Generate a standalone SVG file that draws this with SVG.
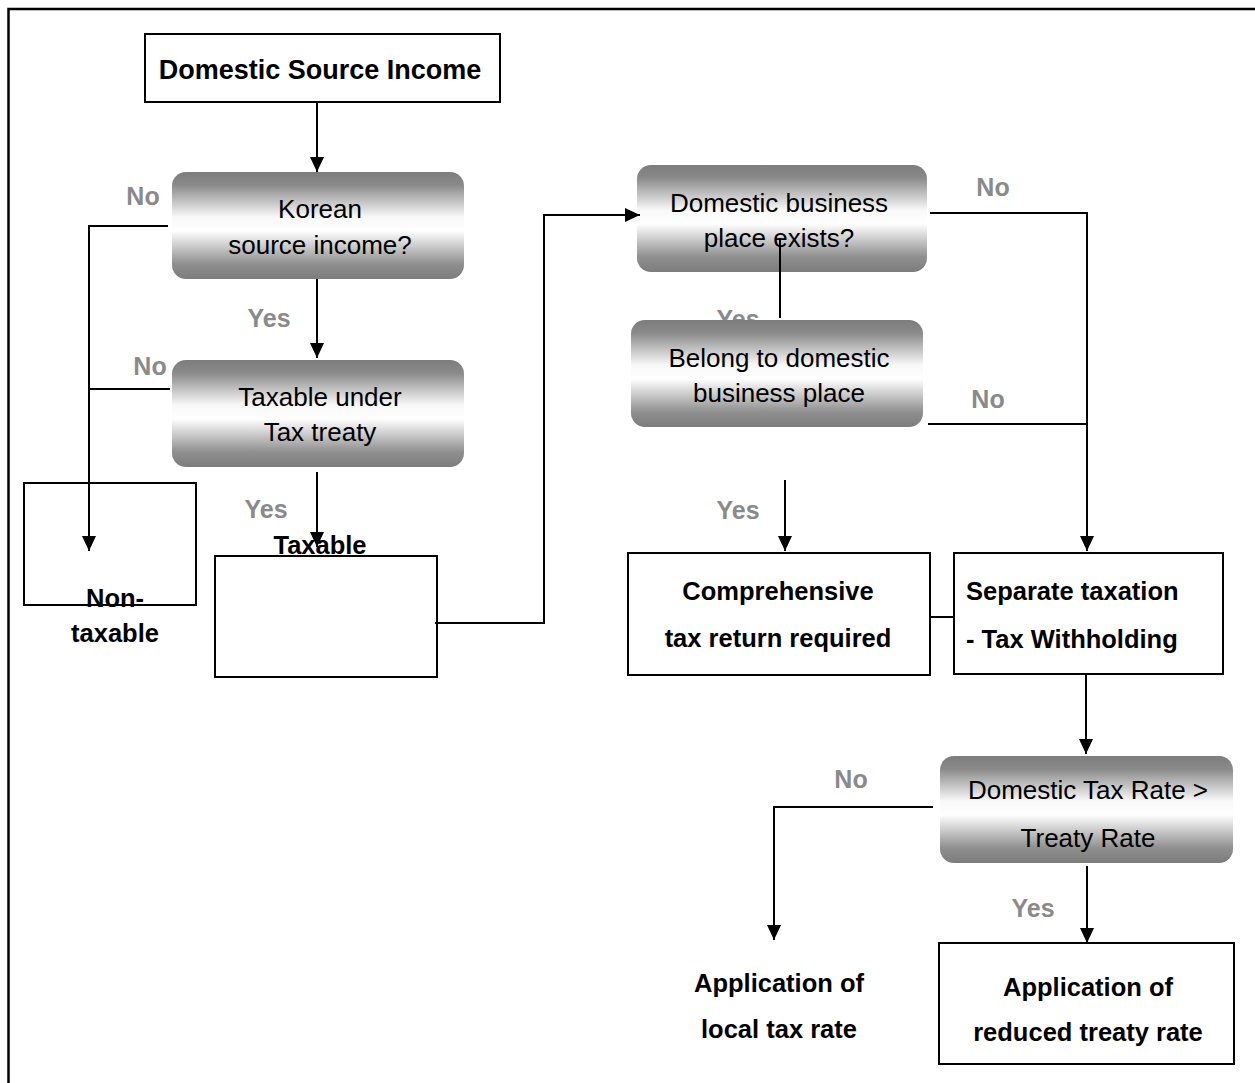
<svg xmlns="http://www.w3.org/2000/svg" width="1255" height="1083" viewBox="0 0 1255 1083">
<style>
.box{fill:#fff;stroke:#000;stroke-width:2}
.dec{stroke:none}
.t{font-family:"Liberation Sans",Arial,sans-serif;font-size:26px;fill:#000;text-anchor:middle}
.b{font-family:"Liberation Sans",Arial,sans-serif;font-size:25.5px;font-weight:bold;fill:#000;text-anchor:middle}
.bl{font-family:"Liberation Sans",Arial,sans-serif;font-size:25.5px;font-weight:bold;fill:#000;text-anchor:start}
.lbl{font-family:"Liberation Sans",Arial,sans-serif;font-size:25px;font-weight:bold;fill:#8a8a8a;text-anchor:middle}
.c{fill:none;stroke:#000;stroke-width:2}
.a{marker-end:url(#arr)}
</style>
<defs>
<linearGradient id="g" x1="0" y1="0" x2="0" y2="1">
<stop offset="0" stop-color="#7c7c7c"/>
<stop offset="0.12" stop-color="#8a8a8a"/>
<stop offset="0.42" stop-color="#f8f8f8"/>
<stop offset="0.55" stop-color="#ffffff"/>
<stop offset="0.86" stop-color="#8f8f8f"/>
<stop offset="1" stop-color="#7c7c7c"/>
</linearGradient>
<marker id="arr" markerUnits="userSpaceOnUse" markerWidth="16" markerHeight="16" viewBox="0 0 16 16" refX="15" refY="8" orient="auto">
<path d="M0,1 L15,8 L0,15 Z" fill="#000"/>
</marker>
</defs>
<rect x="8.5" y="9" width="1260" height="1090" fill="none" stroke="#000" stroke-width="2.5"/>
<text class="lbl" x="738" y="328">Yes</text>
<g id="n-domestic-source"><rect class="box" x="145" y="34" width="355" height="68"/><text class="b" x="320" y="79" style="font-size:27px">Domestic Source Income</text></g>
<g id="n-korean"><rect class="dec" x="172" y="172" width="292" height="107" rx="14" fill="url(#g)"/><text class="t" x="320" y="218">Korean</text><text class="t" x="320" y="254">source income?</text></g>
<g id="n-treaty"><rect class="dec" x="172" y="360" width="292" height="107" rx="14" fill="url(#g)"/><text class="t" x="320" y="406">Taxable under</text><text class="t" x="320" y="441">Tax treaty</text></g>
<g id="n-nontaxable"><rect class="box" x="24" y="483" width="172" height="122"/><text class="b" x="115" y="607">Non-</text><text class="b" x="115" y="642">taxable</text></g>
<g id="n-taxable"><text class="b" x="320" y="554">Taxable</text><rect class="box" x="215" y="556" width="222" height="121" fill="none"/></g>
<g id="n-business-exists"><rect class="dec" x="637" y="165" width="290" height="107" rx="14" fill="url(#g)"/><text class="t" x="779" y="212">Domestic business</text><text class="t" x="779" y="247">place exists?</text></g>
<g id="n-belong"><rect class="dec" x="631" y="320" width="292" height="107" rx="14" fill="url(#g)"/><text class="t" x="779" y="367">Belong to domestic</text><text class="t" x="779" y="402">business place</text></g>
<g id="n-comprehensive"><rect class="box" x="628" y="553" width="302" height="122"/><text class="b" x="778" y="600">Comprehensive</text><text class="b" x="778" y="647">tax return required</text></g>
<g id="n-separate"><rect class="box" x="954" y="553" width="269" height="121"/><text class="bl" x="966" y="600">Separate taxation</text><text class="bl" x="966" y="648">- Tax Withholding</text></g>
<g id="n-rate"><rect class="dec" x="940" y="756" width="293" height="107" rx="14" fill="url(#g)"/><text class="t" x="1088" y="799">Domestic Tax Rate &gt;</text><text class="t" x="1088" y="847">Treaty Rate</text></g>
<g id="n-local"><text class="b" x="779" y="992">Application of</text><text class="b" x="779" y="1038">local tax rate</text></g>
<g id="n-reduced"><rect class="box" x="939" y="943" width="295" height="121"/><text class="b" x="1088" y="996">Application of</text><text class="b" x="1088" y="1041">reduced treaty rate</text></g>
<g id="connectors">
<path class="c a" d="M317,102 V172"/>
<path class="c a" d="M168,226 H89 V551"/>
<path class="c" d="M170,389 H89"/>
<path class="c a" d="M317,279 V358"/>
<path class="c a" d="M317,472 V547"/>
<path class="c a" d="M435,623 H544 V215 H640"/>
<path class="c" d="M780,238 V318"/>
<path class="c a" d="M930,213 H1087 V551"/>
<path class="c" d="M928,424 H1087"/>
<path class="c a" d="M785,480 V551"/>
<path class="c" d="M930,617 H954"/>
<path class="c a" d="M1086,674 V754"/>
<path class="c a" d="M933,807 H774 V940"/>
<path class="c a" d="M1087,866 V943"/>
</g>
<g id="labels">
<text class="lbl" x="143" y="205">No</text>
<text class="lbl" x="150" y="375">No</text>
<text class="lbl" x="269" y="327">Yes</text>
<text class="lbl" x="266" y="518">Yes</text>
<text class="lbl" x="993" y="196">No</text>
<text class="lbl" x="988" y="408">No</text>
<text class="lbl" x="738" y="519">Yes</text>
<text class="lbl" x="851" y="788">No</text>
<text class="lbl" x="1033" y="917">Yes</text>
</g>
</svg>
